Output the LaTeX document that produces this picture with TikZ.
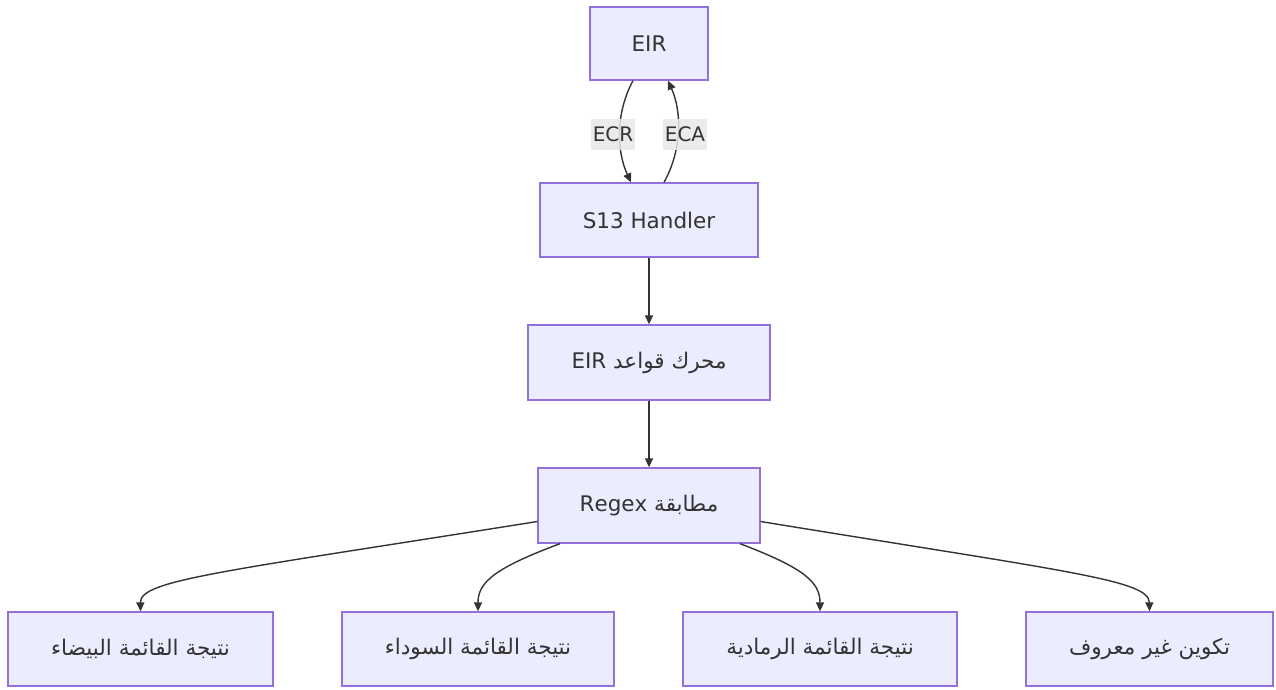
\documentclass[tikz,border=0pt]{standalone}
\usepackage{fontspec}
\setmainfont{DejaVu Sans}
\newfontfamily\arabicfont[Script=Arabic]{DejaVu Sans}
\TeXXeTstate=1
\usetikzlibrary{arrows.meta,calc}
\definecolor{nodefill}{HTML}{ECECFF}
\definecolor{nodeborder}{HTML}{9370DB}
\definecolor{edgecol}{HTML}{333333}
\definecolor{lblfill}{HTML}{E8E8E8}
\tikzset{
  box/.style={draw=nodeborder, fill=nodefill, line width=1.3pt, text=edgecol,
    font=\fontsize{21.5}{25}\selectfont, inner sep=0pt, anchor=center},
  conn/.style={draw=edgecol, line width=1.4pt, -{Triangle[length=9pt,width=8pt]}},
  lbl/.style={fill=lblfill, fill opacity=0.85, text opacity=1, text=edgecol,
    font=\fontsize{20}{24}\selectfont, inner xsep=2pt, inner ysep=8pt}
}
\begin{document}
\begin{tikzpicture}[x=1pt,y=-1pt]
\useasboundingbox (0,0) rectangle (1276,689);
\node[box, minimum width=118pt, minimum height=73pt] (eir) at (649,43.5) {EIR};
\node[box, minimum width=218pt, minimum height=74pt] (s13) at (649,220) {S13 Handler};
\node[box, minimum width=242pt, minimum height=75pt] (eng) at (649,362.5) {\arabicfont\beginR محرك قواعد \beginL EIR\endL\endR};
\node[box, minimum width=222pt, minimum height=75pt] (rgx) at (649,505.5) {\arabicfont\beginR مطابقة \beginL Regex\endL\endR};
\node[box, minimum width=265pt, minimum height=74pt] (w) at (140.5,649) {\arabicfont\beginR نتيجة القائمة البيضاء\endR};
\node[box, minimum width=272pt, minimum height=74pt] (b) at (478,649) {\arabicfont\beginR نتيجة القائمة السوداء\endR};
\node[box, minimum width=274pt, minimum height=74pt] (g) at (820,649) {\arabicfont\beginR نتيجة القائمة الرمادية\endR};
\node[box, minimum width=247pt, minimum height=74pt] (u) at (1149.5,649) {\arabicfont\beginR تكوين غير معروف\endR};

\draw[conn] ($(eir.south)+(-16,0)$) .. controls (616,112) and (616,150) .. node[lbl, xshift=-7pt, yshift=-3pt] {ECR} ($(s13.north)+(-18,0)$);
\draw[conn] ($(s13.north)+(15,0)$) .. controls (682,150) and (682,112) .. node[lbl, xshift=7pt, yshift=-3pt] {ECA} ($(eir.south)+(19,0)$);
\draw[conn] (s13.south) -- (eng.north);
\draw[conn] (eng.south) -- (rgx.north);
\draw[conn] ($(rgx.west)+(0,16)$) .. controls (220,572) and (140,580) .. (w.north);
\draw[conn] ($(rgx.south)+(-89,0)$) .. controls (495,568) and (478,582) .. (b.north);
\draw[conn] ($(rgx.south)+(91,0)$) .. controls (804,568) and (820,582) .. (g.north);
\draw[conn] ($(rgx.east)+(0,16)$) .. controls (1070,572) and (1149,580) .. (u.north);
\end{tikzpicture}
\end{document}
